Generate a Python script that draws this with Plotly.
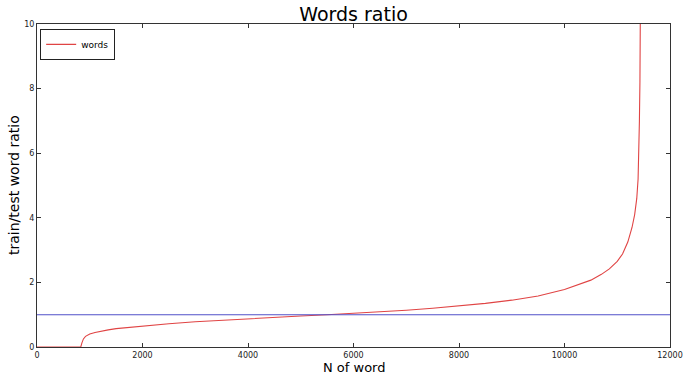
import plotly.graph_objects as go

# Data
n_word = [0, 830, 850, 880, 920, 1000, 1100, 1200, 1350, 1500, 1750, 2000, 2500,
          3000, 3500, 4000, 4500, 5000, 5500, 6000, 6500, 7000, 7500, 8000, 8500,
          9000, 9500, 10000, 10250, 10500, 10700, 10850, 11000, 11100, 11200,
          11280, 11330, 11370, 11395, 11410, 11420, 11430, 11440]
ratio = [0, 0, 0.12, 0.25, 0.33, 0.40, 0.45, 0.49, 0.53, 0.57, 0.61, 0.65, 0.72,
         0.78, 0.83, 0.88, 0.92, 0.96, 1.0, 1.04, 1.09, 1.14, 1.2, 1.27, 1.35,
         1.45, 1.58, 1.78, 1.92, 2.07, 2.25, 2.42, 2.65, 2.88, 3.25,
         3.7, 4.1, 4.6, 5.2, 6.0, 7.0, 8.2, 11]
ref_x = [0, 12000]
ref_y = [1, 1]

x_ticks = [0, 2000, 4000, 6000, 8000, 10000, 12000]
y_ticks = [0, 2, 4, 6, 8, 10]

fig = go.Figure()
fig.add_trace(go.Scatter(x=n_word, y=ratio, mode="lines", name="words",
                         line=dict(color="#e04444", width=1.1)))
fig.add_trace(go.Scatter(x=ref_x, y=ref_y, mode="lines", showlegend=False,
                         line=dict(color="#5050c8", width=1.1)))

axis_common = dict(showgrid=False, zeroline=False, showline=True, linecolor="#333",
                   linewidth=1, mirror="allticks", ticks="inside", ticklen=4,
                   tickcolor="#333", automargin=False,
                   tickfont=dict(family="DejaVu Sans", size=8, color="#222"))

W, H = 685, 374
L, R, T, B = 37, 15, 24, 27
PW, PH = W - L - R, H - T - B

fig.update_layout(
    width=W, height=H,
    margin=dict(l=L, r=R, t=T, b=B),
    paper_bgcolor="white", plot_bgcolor="white",
    title=dict(text="Words ratio", x=353.5 / W, xanchor="center",
               y=1 - 14 / H, yanchor="middle",
               font=dict(family="DejaVu Sans", size=19, color="black")),
    legend=dict(x=0.005, y=0.985, xanchor="left", yanchor="top", bgcolor="white",
                bordercolor="#222", borderwidth=1, itemwidth=30,
                font=dict(family="DejaVu Sans", size=9, color="black")),
    xaxis=dict(range=[0, 12000], tickvals=x_ticks, tickformat="d", **axis_common),
    yaxis=dict(range=[0, 10], tickvals=y_ticks, **axis_common),
    annotations=[
        dict(text="N of word", xref="paper", yref="paper", x=0.5, y=-20 / PH,
             xanchor="center", yanchor="middle", showarrow=False,
             font=dict(family="DejaVu Sans", size=13, color="black")),
        dict(text="train/test word ratio", xref="paper", yref="paper",
             x=-23 / PW, y=(347 - 185) / PH, xanchor="center", yanchor="middle",
             textangle=-90, showarrow=False,
             font=dict(family="DejaVu Sans", size=14, color="black")),
    ],
)

fig.write_html("out.html", config={"displayModeBar": False},
               post_script="document.body.style.margin='0';document.body.style.overflow='hidden';")
